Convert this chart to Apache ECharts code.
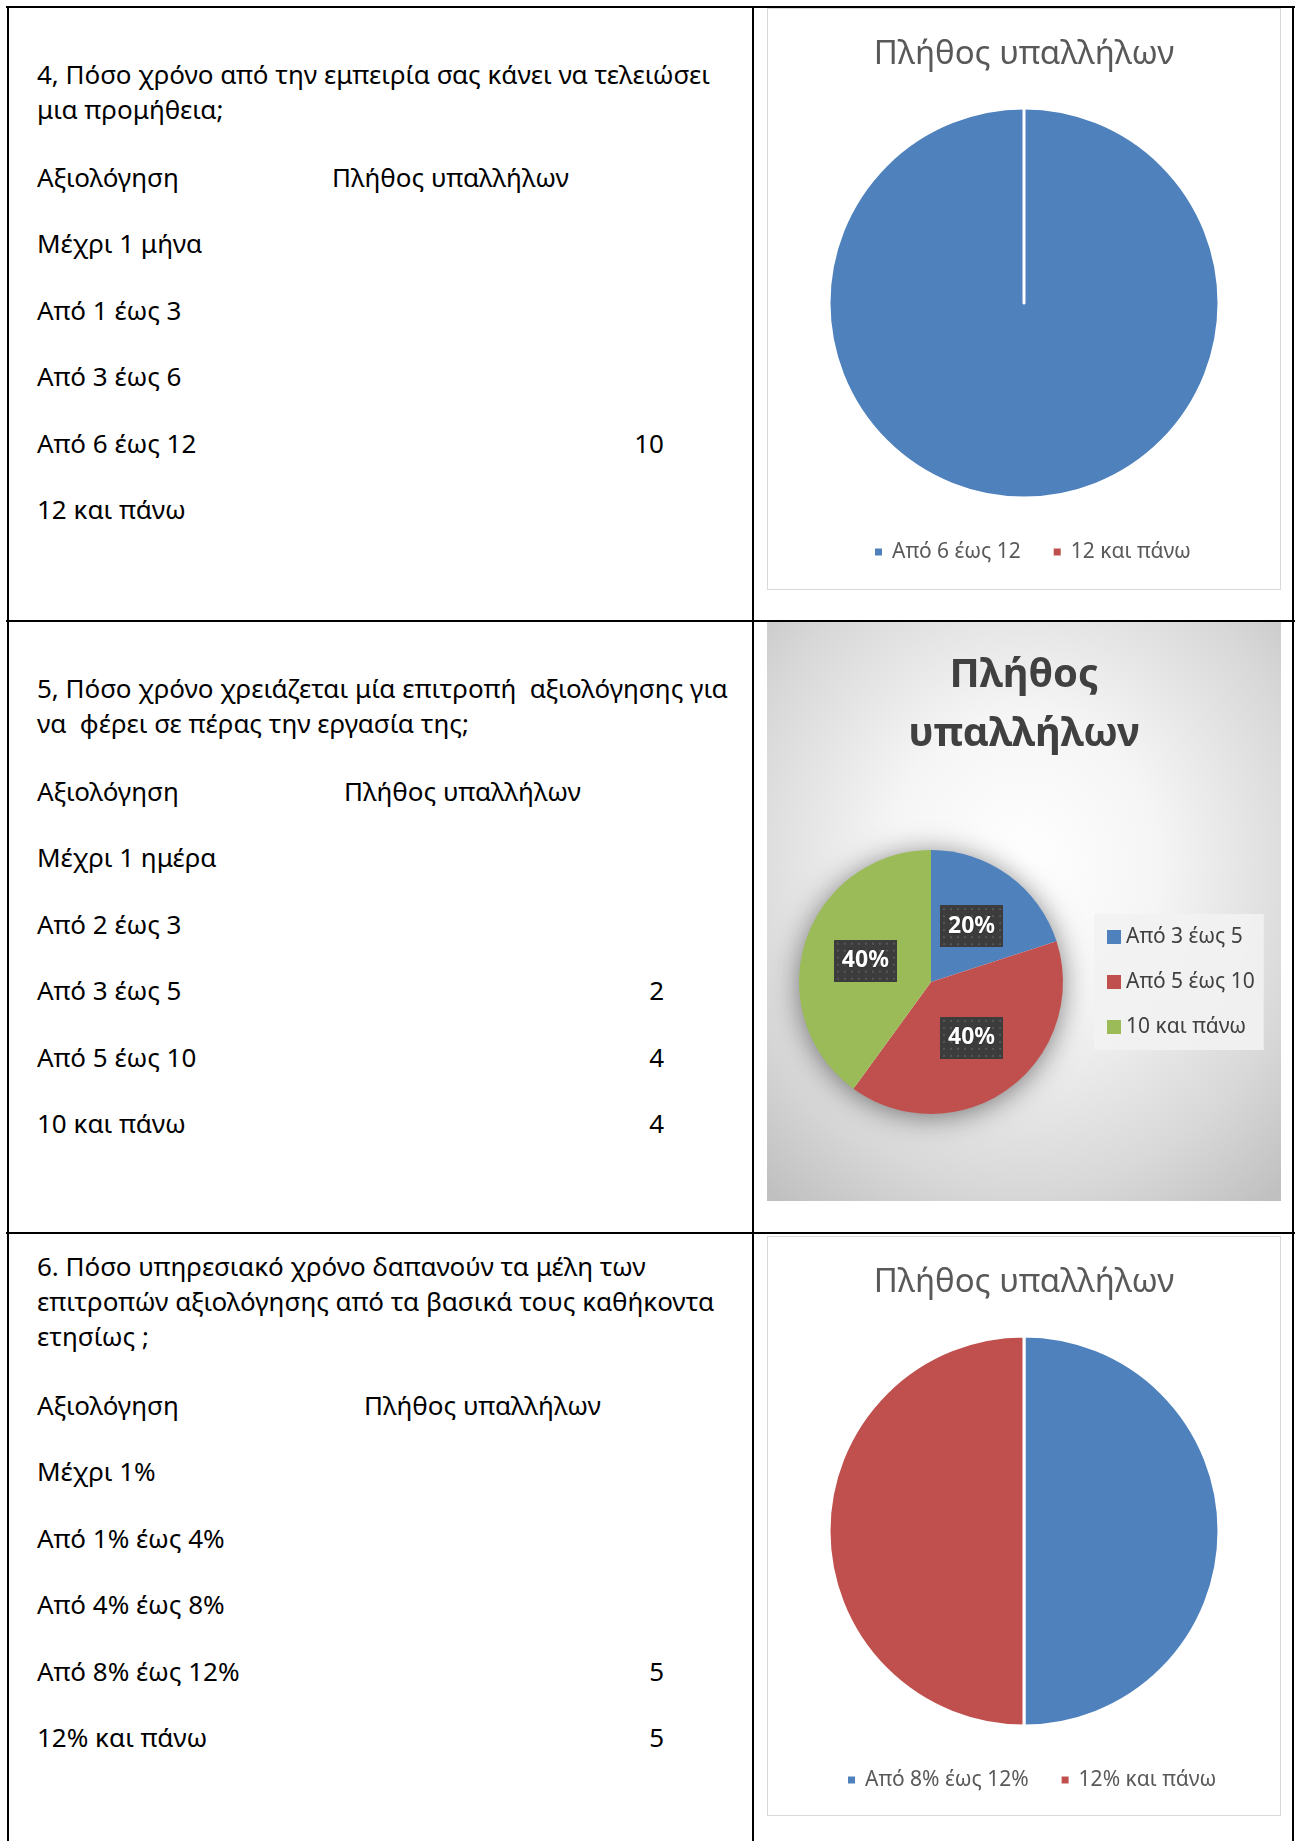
<!DOCTYPE html>
<html lang="el">
<head>
<meta charset="utf-8">
<title>Πλήθος υπαλλήλων</title>
<script src="https://cdn.jsdelivr.net/npm/echarts@6.0.0/dist/echarts.min.js"></script>
<style>
  html, body { margin: 0; padding: 0; background: #fff; }
  body { width: 1301px; height: 1841px; position: relative; overflow: hidden; font-family: 'Noto Sans', sans-serif; color: #000; }
  .rule { position: absolute; background: #000; }
  .t { position: absolute; font-size: 26px; line-height: 35px; white-space: pre; }
  .num { width: 60px; text-align: right; }
  .chart { position: absolute; left: 767px; width: 514px; }
  .plain { background: #fff; box-shadow: inset 0 0 0 1px #d9d9d9; }
  .shaded { background: radial-gradient(ellipse 75% 75% at 50% 42%, #ffffff 0%, #f5f5f5 35%, #d8d8d8 75%, #c0c0c0 100%); }
</style>
</head>
<body>
<div class="rule" style="left:6px;top:6px;width:1289px;height:2px"></div>
<div class="rule" style="left:6px;top:620px;width:1289px;height:2px"></div>
<div class="rule" style="left:6px;top:1232px;width:1289px;height:2px"></div>
<div class="rule" style="left:7px;top:6px;width:2px;height:1835px"></div>
<div class="rule" style="left:752px;top:6px;width:2px;height:1835px"></div>
<div class="rule" style="left:1292px;top:6px;width:2px;height:1835px"></div>

<div id="c4" class="chart plain" style="top:8px;height:582px"></div>
<div id="c5" class="chart shaded" style="top:622px;height:579px"></div>
<div id="c6" class="chart plain" style="top:1236px;height:580px"></div>

<script>
// table text and counts, as in the document
const columnHeads = ['Αξιολόγηση', 'Πλήθος υπαλλήλων'];

const q4Question = ['4, Πόσο χρόνο από την εμπειρία σας κάνει να τελειώσει', 'μια προμήθεια;'];
const q4Categories = ['Μέχρι 1 μήνα', 'Από 1 έως 3', 'Από 3 έως 6', 'Από 6 έως 12', '12 και πάνω'];
const q4Counts = [null, null, null, 10, null];

const q5Question = ['5, Πόσο χρόνο χρειάζεται μία επιτροπή  αξιολόγησης για', 'να  φέρει σε πέρας την εργασία της;'];
const q5Categories = ['Μέχρι 1 ημέρα', 'Από 2 έως 3', 'Από 3 έως 5', 'Από 5 έως 10', '10 και πάνω'];
const q5Counts = [null, null, 2, 4, 4];

const q6Question = ['6. Πόσο υπηρεσιακό χρόνο δαπανούν τα μέλη των', 'επιτροπών αξιολόγησης από τα βασικά τους καθήκοντα', 'ετησίως ;'];
const q6Categories = ['Μέχρι 1%', 'Από 1% έως 4%', 'Από 4% έως 8%', 'Από 8% έως 12%', '12% και πάνω'];
const q6Counts = [null, null, null, 5, 5];

// rows that each chart was made from
const pie4Rows = [3, 4];
const pie5Rows = [2, 3, 4];
const pie6Rows = [3, 4];

const chartTitle = 'Πλήθος υπαλλήλων';
const sliceColors = ['#4f81bd', '#c0504d', '#9bbb59'];

// ---- left column ----
const ROW_STEP = 66.4;
function addText(str, x, baseline, cls) {
  const d = document.createElement('div');
  d.className = 't' + (cls ? ' ' + cls : '');
  d.textContent = str;
  d.style.left = x + 'px';
  d.style.top = (baseline - 30) + 'px';
  document.body.appendChild(d);
}
function section(question, categories, counts, qBase, rowBase, headX) {
  question.forEach((line, i) => addText(line, 37, qBase + i * 35));
  addText(columnHeads[0], 37, rowBase);
  addText(columnHeads[1], headX, rowBase);
  categories.forEach((c, i) => {
    const y = rowBase + (i + 1) * ROW_STEP;
    addText(c, 37, y);
    if (counts[i] != null) addText(String(counts[i]), 604, y, 'num');
  });
}
section(q4Question, q4Categories, q4Counts, 87, 190, 332);
section(q5Question, q5Categories, q5Counts, 701, 804, 344);
section(q6Question, q6Categories, q6Counts, 1279, 1418, 364);

// ---- charts ----
function pieData(categories, counts, rows) {
  return rows.map(i => ({ name: categories[i], value: counts[i] == null ? 0 : counts[i] }));
}

function plainPie(el, data, legendLeft) {
  const chart = echarts.init(el);
  chart.setOption({
    animation: false,
    color: sliceColors,
    title: {
      text: chartTitle,
      left: 'center',
      top: 47,
      padding: 0,
      textVerticalAlign: 'middle',
      textStyle: { fontFamily: 'Noto Sans', fontSize: 33, fontWeight: 'normal', color: '#595959' }
    },
    legend: {
      left: legendLeft,
      top: 532,
      padding: 0,
      icon: 'rect',
      itemWidth: 9,
      itemHeight: 9,
      itemGap: 31,
      data: data.map(d => d.name),
      textStyle: { fontFamily: 'Noto Sans', fontSize: 21, lineHeight: 24, color: '#595959', padding: [0, 0, 0, 4] }
    },
    series: [{
      type: 'pie',
      center: [257, 295],
      radius: 195,
      startAngle: 90,
      clockwise: true,
      label: { show: false },
      labelLine: { show: false },
      itemStyle: { borderColor: '#fff', borderWidth: 3 },
      emphasis: { disabled: true },
      data: data
    }]
  });
}

function dottedBox() {
  const c = document.createElement('canvas');
  c.width = 63; c.height = 42;
  const g = c.getContext('2d');
  g.fillStyle = '#3c3c3c';
  g.fillRect(0, 0, 63, 42);
  g.fillStyle = '#575757';
  for (let y = 3; y < 42; y += 7) {
    for (let x = 3; x < 63; x += 7) g.fillRect(x, y, 2, 2);
  }
  return c;
}

function styledPie(el, data) {
  const chart = echarts.init(el);
  const total = data.reduce((s, d) => s + d.value, 0);
  chart.setOption({
    animation: false,
    color: sliceColors,
    title: {
      text: chartTitle.replace(' ', '\n'),
      left: 'center',
      top: 83,
      padding: 0,
      textVerticalAlign: 'middle',
      textStyle: { fontFamily: 'Noto Sans', fontSize: 40, fontWeight: 'bold', lineHeight: 59, color: '#404040' }
    },
    legend: {
      orient: 'vertical',
      left: 327,
      top: 292,
      padding: [12, 9, 12, 13],
      backgroundColor: 'rgba(242,242,242,0.9)',
      icon: 'rect',
      itemWidth: 14,
      itemHeight: 14,
      itemGap: 23,
      data: data.map(d => d.name),
      textStyle: { fontFamily: 'Noto Sans', fontSize: 21, lineHeight: 22, color: '#404040' }
    },
    series: [
      {
        // soft shadow under the pie
        type: 'pie',
        silent: true,
        z: 1,
        center: [164, 360],
        radius: 130,
        label: { show: false },
        labelLine: { show: false },
        itemStyle: { color: '#ffffff', shadowBlur: 30, shadowColor: 'rgba(0,0,0,0.55)', shadowOffsetY: 3 },
        data: [{ name: '', value: total }]
      },
      {
        type: 'pie',
        z: 2,
        center: [164, 360],
        radius: 132,
        startAngle: 90,
        clockwise: true,
        percentPrecision: 0,
        labelLine: { show: false },
        emphasis: { disabled: true },
        label: {
          show: true,
          position: 'inside',
          formatter: '{d}%',
          fontFamily: 'Noto Sans',
          fontSize: 23,
          fontWeight: 'bold',
          lineHeight: 28,
          color: '#ffffff',
          padding: [7, 8],
          backgroundColor: { image: dottedBox() },
          shadowBlur: 5,
          shadowOffsetX: 3,
          shadowOffsetY: 3,
          shadowColor: 'rgba(0,0,0,0.45)',
          textShadowBlur: 2,
          textShadowColor: 'rgba(0,0,0,0.5)'
        },
        data: data
      }
    ]
  });
}

plainPie(document.getElementById('c4'), pieData(q4Categories, q4Counts, pie4Rows), 106);
styledPie(document.getElementById('c5'), pieData(q5Categories, q5Counts, pie5Rows));
plainPie(document.getElementById('c6'), pieData(q6Categories, q6Counts, pie6Rows), 79);
</script>
</body>
</html>
